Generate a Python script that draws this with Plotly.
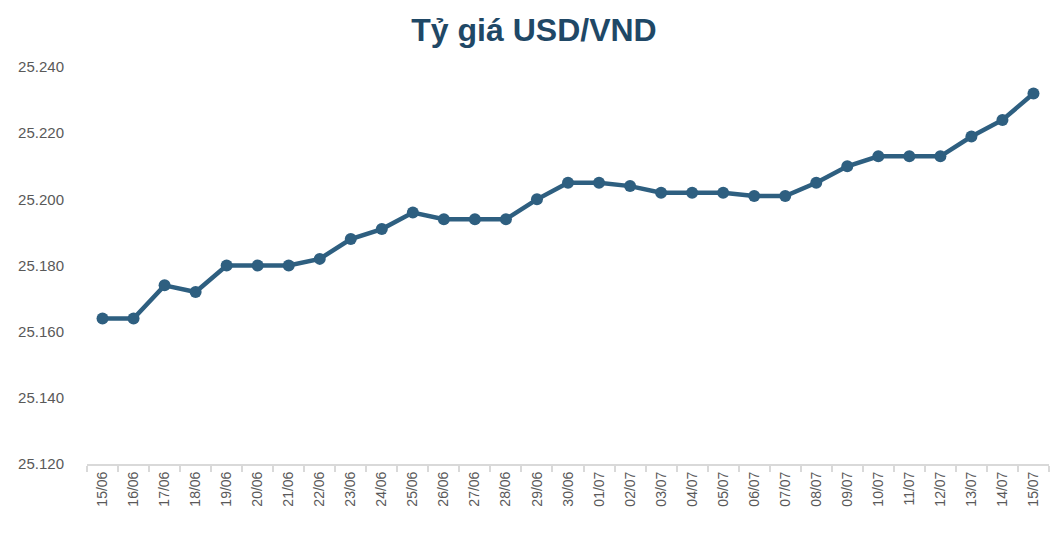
import plotly.graph_objects as go

dates = ["15/06","16/06","17/06","18/06","19/06","20/06","21/06","22/06","23/06","24/06",
         "25/06","26/06","27/06","28/06","29/06","30/06","01/07","02/07","03/07","04/07",
         "05/07","06/07","07/07","08/07","09/07","10/07","11/07","12/07","13/07","14/07","15/07"]
rates = [25164,25164,25174,25172,25180,25180,25180,25182,25188,25191,
         25196,25194,25194,25194,25200,25205,25205,25204,25202,25202,
         25202,25201,25201,25205,25210,25213,25213,25213,25219,25224,25232]
y_ticks = [25120,25140,25160,25180,25200,25220,25240]

fig = go.Figure(go.Scatter(
    x=dates, y=rates, mode="lines+markers",
    line=dict(color="#2e5f80", width=4.5),
    marker=dict(color="#2e5f80", size=12),
))
fig.update_layout(
    width=1052, height=530,
    paper_bgcolor="white", plot_bgcolor="white",
    separators=",.",
    margin=dict(l=79, r=11, t=59, b=74),
    showlegend=False,
    title=dict(text="<b>Tỷ giá USD/VND</b>", x=0.5, xanchor="center", y=0.958, yanchor="middle",
               font=dict(family="Liberation Sans, Arial, sans-serif", size=32, color="#1f4866")),
    font=dict(family="Liberation Sans, Arial, sans-serif", color="#595959"),
)
fig.update_xaxes(
    type="category", range=[-0.5, 30.5],
    showline=True, linecolor="#d9d9d9", linewidth=2,
    ticks="outside", tickson="boundaries", ticklen=6, tickcolor="#d9d9d9", tickwidth=2,
    tickangle=-90, tickfont=dict(size=14, color="#595959"),
    showgrid=False, zeroline=False,
)
fig.update_yaxes(
    range=[25120, 25240], tickvals=y_ticks, tickformat=",d",
    showgrid=False, zeroline=False, showline=False,
    tickfont=dict(size=15, color="#595959"), ticklabelstandoff=22,
)
fig.write_html("out.html")
